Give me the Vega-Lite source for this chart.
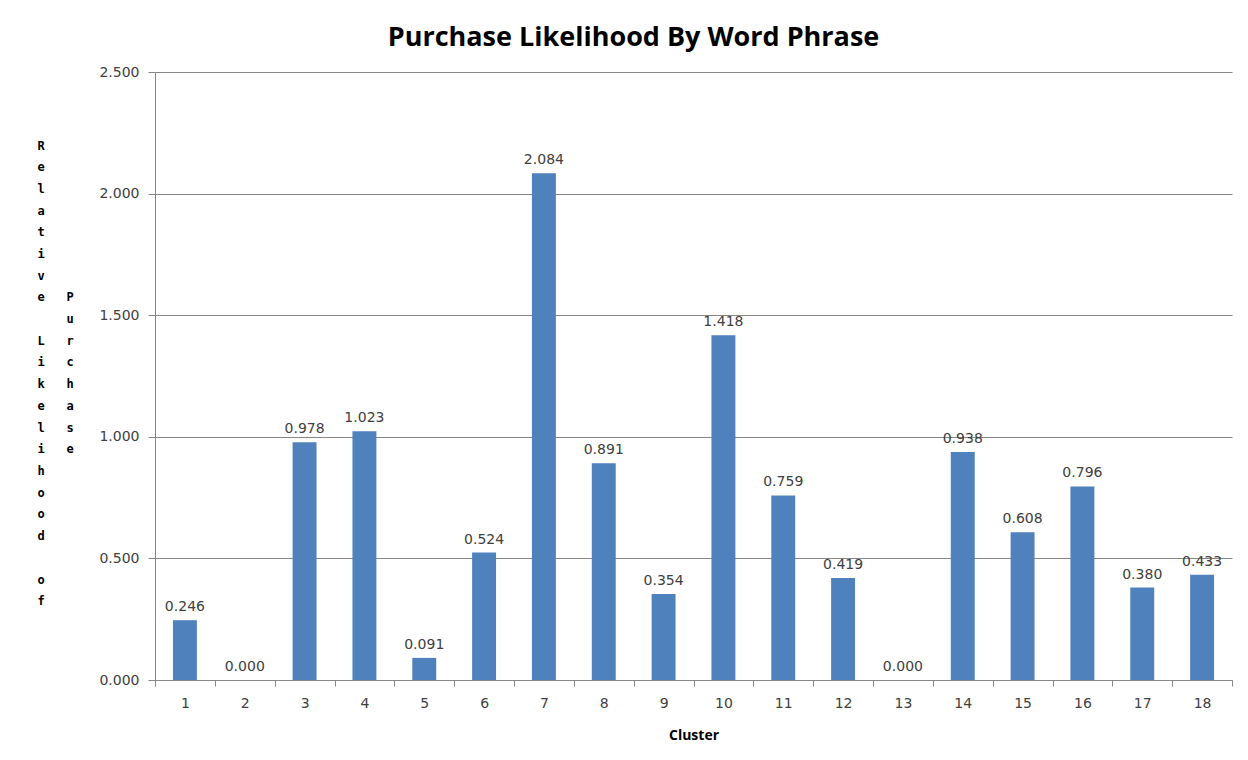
{
  "$schema": "https://vega.github.io/schema/vega-lite/v6.json",
  "width": 1077,
  "height": 608,
  "autosize": {"type": "none"},
  "padding": {"left": 155, "top": 72, "right": 16, "bottom": 80},
  "background": "white",
  "title": {
    "text": "Purchase Likelihood By Word Phrase",
    "font": "Open Sans",
    "fontSize": 27,
    "fontWeight": "bold",
    "color": "#000000",
    "anchor": "middle",
    "frame": "group",
    "baseline": "alphabetic",
    "offset": 25,
    "dx": -60,
    "dy": 33
  },
  "data": {
    "values": [
      {"cluster": "1", "value": 0.246},
      {"cluster": "2", "value": 0.0},
      {"cluster": "3", "value": 0.978},
      {"cluster": "4", "value": 1.023},
      {"cluster": "5", "value": 0.091},
      {"cluster": "6", "value": 0.524},
      {"cluster": "7", "value": 2.084},
      {"cluster": "8", "value": 0.891},
      {"cluster": "9", "value": 0.354},
      {"cluster": "10", "value": 1.418},
      {"cluster": "11", "value": 0.759},
      {"cluster": "12", "value": 0.419},
      {"cluster": "13", "value": 0.0},
      {"cluster": "14", "value": 0.938},
      {"cluster": "15", "value": 0.608},
      {"cluster": "16", "value": 0.796},
      {"cluster": "17", "value": 0.38},
      {"cluster": "18", "value": 0.433}
    ]
  },
  "encoding": {
    "x": {
      "field": "cluster",
      "type": "ordinal",
      "sort": null,
      "scale": {"paddingInner": 0, "paddingOuter": 0},
      "axis": {
        "title": "Cluster",
        "titleFont": "Open Sans",
        "titleFontSize": 14,
        "titleFontWeight": "bold",
        "titleColor": "#000000",
        "titlePadding": 18,
        "labelAngle": 0,
        "labelFont": "DejaVu Sans",
        "labelFontSize": 14,
        "labelColor": "#404040",
        "labelPadding": 10,
        "tickBand": "extent",
        "tickSize": 6,
        "tickColor": "#868686",
        "domainColor": "#868686",
        "grid": false
      }
    },
    "y": {
      "field": "value",
      "type": "quantitative",
      "scale": {"domain": [0, 2.5], "nice": false},
      "axis": {
        "values": [0, 0.5, 1, 1.5, 2, 2.5],
        "format": ".3f",
        "labelFont": "DejaVu Sans",
        "labelFontSize": 14,
        "labelColor": "#404040",
        "labelPadding": 9,
        "tickSize": 7,
        "tickColor": "#868686",
        "domainColor": "#868686",
        "grid": true,
        "gridColor": "#868686",
        "gridWidth": 1,
        "title": ["R", "e", "l", "a", "t", "i", "v", "e\u00a0\u00a0\u00a0P", "\u200b\u00a0\u00a0\u00a0\u00a0u", "L\u00a0\u00a0\u00a0r", "i\u00a0\u00a0\u00a0c", "k\u00a0\u00a0\u00a0h", "e\u00a0\u00a0\u00a0a", "l\u00a0\u00a0\u00a0s", "i\u00a0\u00a0\u00a0e", "h", "o", "o", "d", "\u200b", "o", "f"],
        "titleFont": "DejaVu Sans Mono",
        "titleFontSize": 12,
        "titleFontWeight": "bold",
        "titleColor": "#000000",
        "titleAngle": 0,
        "titleAlign": "left",
        "titleBaseline": "top",
        "titleLineHeight": 21.7,
        "titleX": -118,
        "titleY": 68
      }
    }
  },
  "layer": [
    {
      "mark": {"type": "bar", "color": "#4F81BD", "width": {"band": 0.4}}
    },
    {
      "mark": {"type": "text", "baseline": "bottom", "dy": -6, "font": "DejaVu Sans", "fontSize": 14, "color": "#404040"},
      "encoding": {"text": {"field": "value", "type": "quantitative", "format": ".3f"}}
    }
  ],
  "config": {
    "view": {"stroke": null}
  }
}
